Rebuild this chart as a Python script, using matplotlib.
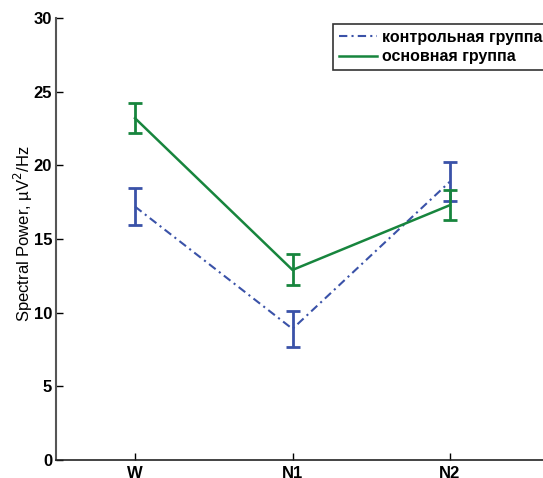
import matplotlib
matplotlib.use('Agg')
import matplotlib.pyplot as plt
from matplotlib.lines import Line2D

# Données
stades = ['W', 'N1', 'N2']
controle = [17.2, 8.9, 18.9]
controle_err = [1.25, 1.2, 1.3]
principal = [23.2, 12.9, 17.3]
principal_err = [1.0, 1.05, 1.0]
noms = ['контрольная группа', 'основная группа']

plt.rcParams['font.family'] = ['Liberation Sans', 'DejaVu Sans']

fig = plt.figure(figsize=(5.43, 4.78), dpi=100)
W, H = 543, 478
# axe : x=0.5 à 56 px, 157.5 px par catégorie ; y de 460 px (0) à 18 px (30)
ax = fig.add_axes([56.25 / W, 18 / H, 504 / W, 442 / H])

x = [1, 2, 3]
bleu = '#3a52a8'
vert = '#17853d'
tirets = (0, (4, 2, 1, 2))

ax.errorbar(x, controle, yerr=controle_err, color=bleu, linestyle=tirets,
            linewidth=1.5, elinewidth=2, capsize=5, capthick=2)
ax.errorbar(x, principal, yerr=principal_err, color=vert, linestyle='-',
            linewidth=1.8, elinewidth=2, capsize=5, capthick=2)

ax.set_xlim(0.5, 3.7)
ax.set_ylim(0, 30)
ax.set_xticks(x)
ax.set_xticklabels(stades, fontweight='bold', fontsize=12)
ax.set_yticks([0, 5, 10, 15, 20, 25, 30])
ax.set_yticklabels(['0', '5', '10', '15', '20', '25', '30'], fontweight='bold', fontsize=12)
ax.tick_params(direction='in', length=5, width=1)
ax.tick_params(axis='y', pad=3)
ax.tick_params(axis='x', pad=4)

ax.spines['top'].set_visible(False)
ax.spines['right'].set_visible(False)
ax.spines['left'].set_color('#555555')
ax.spines['left'].set_linewidth(1.5)
ax.spines['bottom'].set_color('#222222')
ax.spines['bottom'].set_linewidth(1.2)

fig.text(23 / W, 1 - 234 / H, 'Spectral Power, µV$^2$/Hz', rotation=90,
         ha='center', va='center', fontsize=12)

# légende sans barres d'erreur
poignees = [Line2D([], [], color=bleu, linestyle=tirets, linewidth=1.5),
            Line2D([], [], color=vert, linestyle='-', linewidth=1.8)]
leg = ax.legend(poignees, noms, loc='upper left', bbox_to_anchor=(333 / W, 1 - 24 / H),
                bbox_transform=fig.transFigure, prop={'weight': 'bold', 'size': 11.5},
                frameon=True, fancybox=False, handlelength=2.4, borderpad=0.35,
                labelspacing=0.3, handletextpad=0.3, borderaxespad=0)
leg.get_frame().set_edgecolor('black')
leg.get_frame().set_linewidth(1.2)

fig.savefig('out.png', dpi=100)
